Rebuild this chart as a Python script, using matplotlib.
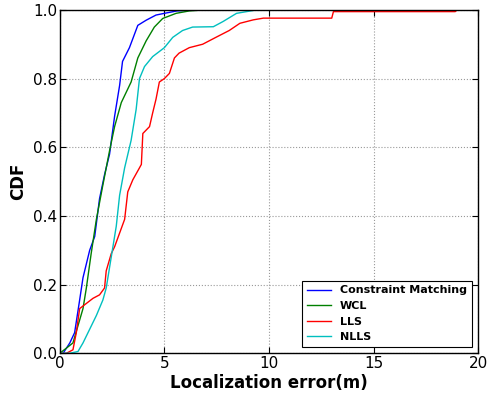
import matplotlib
matplotlib.use("Agg")
import matplotlib.pyplot as plt

# CDF points (x = localization error in m, y = CDF)
cm_x = [0.0, 0.16, 0.48, 0.71, 0.95, 1.11, 1.43, 1.67, 1.9, 2.14, 2.38, 2.62, 2.86, 3.0, 3.33, 3.73, 4.13, 4.6, 5.0, 5.6, 6.6]
cm_y = [0.0, 0.0, 0.03, 0.06, 0.155, 0.22, 0.30, 0.34, 0.45, 0.52, 0.58, 0.69, 0.78, 0.85, 0.89, 0.955, 0.97, 0.985, 0.99, 0.997, 1.0]

wcl_x = [0.0, 0.32, 0.63, 0.87, 1.11, 1.27, 1.5, 1.75, 2.06, 2.38, 2.62, 2.94, 3.41, 3.73, 4.13, 4.52, 4.92, 5.56, 6.19, 6.9]
wcl_y = [0.0, 0.015, 0.03, 0.08, 0.13, 0.19, 0.29, 0.39, 0.49, 0.59, 0.66, 0.73, 0.79, 0.86, 0.91, 0.95, 0.975, 0.99, 0.997, 1.0]

lls_x = [0.0, 0.32, 0.63, 0.79, 0.95, 1.27, 1.59, 1.9, 2.14, 2.22, 2.46, 2.62, 2.86, 3.1, 3.25, 3.49, 3.81, 3.9, 3.97,
         4.29, 4.44, 4.6, 4.76, 5.0, 5.24, 5.48, 5.7, 6.19, 6.83, 7.46, 8.1, 8.61, 9.25, 9.73, 13.0, 13.08, 18.9, 19.0]
lls_y = [0.0, 0.0, 0.01, 0.06, 0.13, 0.145, 0.16, 0.17, 0.19, 0.24, 0.29, 0.31, 0.35, 0.39, 0.47, 0.505, 0.54, 0.55, 0.64,
         0.66, 0.70, 0.74, 0.79, 0.80, 0.815, 0.86, 0.874, 0.89, 0.90, 0.92, 0.94, 0.961, 0.971, 0.976, 0.976, 0.995, 0.995, 1.0]

nlls_x = [0.0, 0.48, 0.87, 1.11, 1.43, 1.75, 2.06, 2.22, 2.46, 2.7, 2.86, 3.1, 3.41, 3.65, 3.81, 4.05, 4.44, 5.0,
          5.4, 5.87, 6.35, 7.34, 7.8, 8.45, 9.41]
nlls_y = [0.0, 0.0, 0.005, 0.03, 0.07, 0.11, 0.155, 0.19, 0.28, 0.37, 0.46, 0.54, 0.62, 0.71, 0.80, 0.835, 0.864, 0.89,
          0.92, 0.94, 0.95, 0.951, 0.966, 0.99, 1.0]

names = ["Constraint Matching", "WCL", "LLS", "NLLS"]
colors = ["b", "g", "r", "c"]

fig = plt.figure(figsize=(4.94, 3.96), dpi=100)
ax = fig.add_axes([0.121, 0.108, 0.847, 0.867])

series = [(cm_x, cm_y), (wcl_x, wcl_y), (lls_x, lls_y), (nlls_x, nlls_y)]
for (xs, ys), name, c in zip(series, names, colors):
    ax.plot(xs, ys, color=c, lw=1.0, label=name)

ax.set_xlim(0, 20)
ax.set_ylim(0, 1.0)
ax.set_xticks([0, 5, 10, 15, 20])
ax.set_yticks([0.0, 0.2, 0.4, 0.6, 0.8, 1.0])
ax.set_yticklabels(["0.0", "0.2", "0.4", "0.6", "0.8", "1.0"])
ax.tick_params(direction="in", top=True, right=True, labelsize=11, length=4, pad=2)
ax.grid(True, linestyle=":", color="0.6", lw=0.8)
for s in ax.spines.values():
    s.set_linewidth(1.0)

ax.set_xlabel("Localization error(m)", fontsize=12, fontweight="bold", labelpad=2)
ax.set_ylabel("CDF", fontsize=12, fontweight="bold", labelpad=4)

leg = ax.legend(loc="lower right", prop={"size": 8, "weight": "bold"}, fancybox=False,
                framealpha=1, edgecolor="k", handlelength=2.2, borderaxespad=0.6)
leg.get_frame().set_linewidth(0.8)

fig.savefig("out.png", dpi=100)
